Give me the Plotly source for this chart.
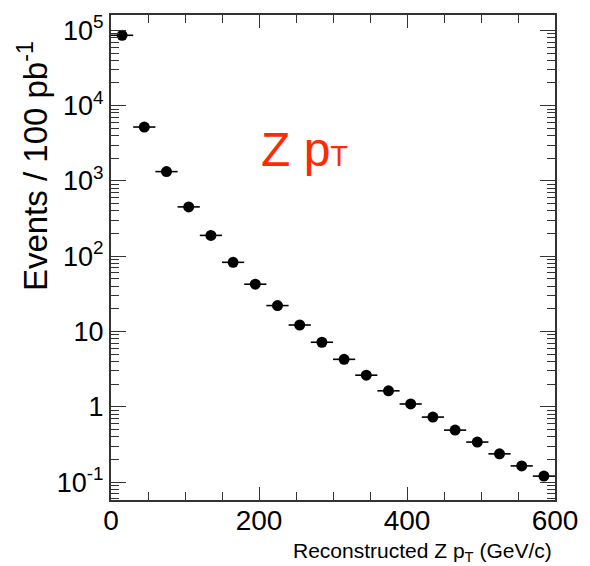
import plotly.graph_objects as go

# Data
bin_centers = [15, 45, 75, 105, 135, 165, 195, 225, 255, 285,
               315, 345, 375, 405, 435, 465, 495, 525, 555, 585]
bin_half_width = [15] * 20
events = [8.6e4, 5.2e3, 1.33e3, 452, 189, 83, 42.5, 22.1, 12.2, 7.2,
          4.27, 2.63, 1.63, 1.09, 0.73, 0.49, 0.34, 0.237, 0.164, 0.12]

y_tickvals = [1e-1, 1, 10, 1e2, 1e3, 1e4, 1e5]
y_ticktext = ["10<sup>-1</sup>", "1", "10", "10<sup>2</sup>", "10<sup>3</sup>",
              "10<sup>4</sup>", "10<sup>5</sup>"]
x_tickvals = [0, 200, 400, 600]
x_ticktext = ["0", "200", "400", "600"]

FONT = "Liberation Sans, Arial, sans-serif"

fig = go.Figure()
fig.add_trace(go.Scatter(
    x=bin_centers, y=events, mode="markers",
    marker=dict(color="black", size=11, symbol="circle"),
    error_x=dict(type="data", array=bin_half_width, color="black",
                 thickness=1.6, width=0),
    showlegend=False,
))

fig.update_layout(
    width=590, height=566,
    margin=dict(l=111, r=25, t=13, b=66),
    paper_bgcolor="white", plot_bgcolor="white",
    font=dict(family=FONT, color="black"),
    xaxis=dict(
        range=[0, 600], showgrid=False, zeroline=False,
        showline=True, linecolor="#333333", linewidth=2, mirror="allticks",
        ticks="inside", ticklen=13, tickwidth=1.4, tickcolor="#333333",
        tickvals=x_tickvals, ticktext=x_ticktext,
        tickfont=dict(size=28, family=FONT), ticklabelstandoff=-6,
        minor=dict(ticks="inside", ticklen=8, dtick=50, tickwidth=1.4,
                   tickcolor="#333333", showgrid=False),
    ),
    yaxis=dict(
        type="log", range=[-1.238, 5.204], showgrid=False, zeroline=False,
        showline=True, linecolor="#333333", linewidth=2, mirror="allticks",
        ticks="inside", ticklen=15, tickwidth=1.4, tickcolor="#333333",
        tickvals=y_tickvals, ticktext=y_ticktext,
        tickfont=dict(size=27, family=FONT),
        minor=dict(ticks="inside", ticklen=8, dtick="D1", tickwidth=1.4,
                   tickcolor="#333333", showgrid=False),
    ),
    annotations=[
        dict(text="Events / 100 pb<sup>-1</sup>", xref="paper", yref="paper",
             x=-111 / 454 + 32 / 454, y=(500 - 165) / 487, textangle=-90,
             showarrow=False, font=dict(size=33, family=FONT),
             xanchor="center", yanchor="middle"),
        dict(text="Reconstructed Z p<sub>T</sub> (GeV/c)", xref="paper", yref="paper",
             x=(564 - 111) / 454, y=-(552 - 500) / 487, showarrow=False,
             font=dict(size=21, family=FONT), xanchor="right", yanchor="middle"),
        dict(text="Z p<span style='font-size:29px'>T</span>", xref="paper", yref="paper",
             x=(262 - 111) / 454, y=(500 - 148) / 487, showarrow=False,
             font=dict(size=48, family=FONT, color="#ff2a00"),
             xanchor="left", yanchor="middle"),
    ],
)

fig.write_html("out.html")
